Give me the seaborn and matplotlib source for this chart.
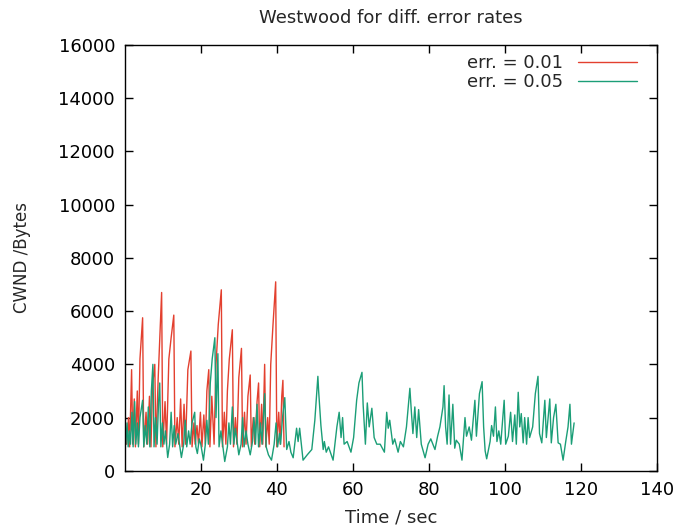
import matplotlib
matplotlib.use("Agg")
import matplotlib.pyplot as plt
import seaborn as sns
import pandas as pd

title = "Westwood for diff. error rates"
xlabel = "Time / sec"
ylabel = "CWND /Bytes"
series_names = ["err. = 0.01", "err. = 0.05"]
xticks = [20, 40, 60, 80, 100, 120, 140]
yticks = [0, 2000, 4000, 6000, 8000, 10000, 12000, 14000, 16000]

red_t = [0.5, 1.0, 1.3, 1.8, 2.1, 2.5, 2.8, 3.3, 3.6, 4.0, 4.7, 5.0, 5.6, 6.0, 6.5,
         6.9, 7.3, 7.9, 8.2, 8.8, 9.7, 10.0, 10.6, 11.0, 11.6, 12.2, 12.9, 13.2, 13.8,
         14.2, 14.7, 15.1, 15.6, 16.0, 16.6, 17.4, 17.7, 18.2, 18.5, 19.0, 19.4, 19.9,
         20.3, 20.8, 21.2, 21.6, 22.1, 22.4, 22.9, 23.5, 24.0, 24.6, 25.4, 25.7, 26.2,
         26.6, 27.0, 27.5, 28.3, 28.6, 29.1, 29.5, 30.0, 30.7, 31.0, 31.5, 31.9, 32.4,
         33.0, 33.3, 33.8, 34.2, 34.8, 35.2, 35.5, 36.0, 36.3, 36.8, 37.1, 37.6, 38.0,
         38.4, 39.0, 39.7, 40.0, 40.5, 40.9, 41.3, 41.6, 41.9]
red_v = [1000, 2000, 900, 3800, 1000, 2700, 900, 3000, 1000, 4200, 5750, 900, 2200, 1000, 2800,
         900, 3200, 4000, 900, 3500, 6700, 900, 2600, 1000, 4200, 5000, 5850, 900, 2000,
         1000, 2700, 900, 2500, 1000, 3800, 4500, 900, 1800, 1000, 1700, 1000, 2200,
         900, 2100, 1000, 3000, 3800, 900, 2800, 1000, 4000, 5500, 6800, 900, 2200,
         1000, 3000, 4200, 5300, 900, 2000, 1000, 3500, 4600, 900, 2200, 1000, 2800,
         3600, 900, 2000, 1000, 2600, 3300, 900, 2500, 1000, 4000, 900, 2000, 1000,
         4000, 5500, 7100, 900, 2200, 1000, 2800, 3400, 900]

green_t = [0.3, 0.6, 0.9, 1.2, 1.5, 1.9, 2.2, 2.6, 2.9, 3.3, 3.6, 4.0, 4.7, 5.0, 5.4,
           5.8, 6.2, 6.6, 7.0, 7.4, 7.7, 8.1, 8.5, 8.9, 9.2, 9.5, 9.9, 10.3, 10.7, 11.3,
           11.8, 12.2, 12.6, 13.0, 13.4, 14.0, 14.9, 15.5, 15.9, 16.3, 16.8, 17.2, 17.7,
           18.4, 18.7, 19.1, 19.6, 20.0, 20.7, 21.2, 21.6, 22.0, 22.5, 23.0, 23.7, 24.0,
           24.5, 24.8, 25.3, 26.3, 27.0, 27.4, 27.8, 28.3, 28.7, 29.1, 30.0, 30.6, 31.0,
           31.4, 31.9, 32.4, 33.0, 33.6, 34.0, 34.4, 34.8, 35.2, 35.7, 36.1, 36.8, 37.2,
           37.8, 38.6, 39.3, 39.8, 40.2, 40.7, 41.0, 41.5, 42.1, 42.6, 43.2, 43.7, 44.3,
           45.2, 45.6, 46.0, 46.9, 48.0, 49.2, 50.0, 50.8, 51.0, 51.6, 52.2, 52.5, 53.0,
           53.6, 54.8, 55.8, 56.4, 56.9, 57.3, 57.7, 58.5, 59.5, 60.2, 61.0, 61.6, 62.4,
           62.7, 63.3, 63.8, 64.3, 65.0, 65.6, 66.3, 67.2, 68.3, 68.9, 69.3, 69.7, 70.5,
           71.0, 71.9, 72.5, 73.3, 74.1, 75.0, 75.4, 75.8, 76.3, 76.8, 77.3, 78.0, 79.0,
           79.8, 80.5, 81.6, 82.3, 82.9, 83.7, 84.0, 84.4, 84.8, 85.3, 85.7, 86.3, 86.8,
           87.2, 88.0, 88.7, 89.5, 89.9, 90.6, 91.2, 92.1, 92.5, 93.3, 94.0, 94.4, 94.8,
           95.2, 96.1, 96.5, 97.0, 97.5, 97.9, 98.4, 98.9, 99.8, 100.2, 100.9, 101.5,
           102.0, 102.6, 103.0, 103.5, 103.9, 104.3, 104.8, 105.2, 105.7, 106.1, 106.5,
           107.3, 108.0, 108.7, 109.1, 109.7, 110.5, 110.9, 111.8, 112.2, 112.8, 113.4,
           114.0, 114.6, 115.3, 116.0, 116.6, 117.1, 117.5, 118.2]
green_v = [1000, 1800, 900, 1500, 1000, 2200, 900, 2600, 1000, 1800, 900, 2000, 2650, 900, 1700,
           1000, 2400, 900, 3000, 4000, 900, 2000, 1000, 2600, 3300, 900, 1800, 1000, 1500, 500,
           1000, 2200, 900, 1700, 1000, 1400, 500, 1000, 1900, 900, 1500, 1000, 1800,
           2200, 900, 650, 1200, 1000, 400, 1000, 1900, 1000, 3300, 4200, 5000, 2000,
           4400, 900, 1500, 350, 900, 1800, 1000, 2400, 1000, 1600, 600, 1000, 2000,
           900, 1500, 1000, 600, 1100, 2000, 1000, 2500, 900, 1800, 1000, 2900, 900,
           600, 400, 1000, 1800, 900, 1400, 1000, 2000, 2750, 800, 1100, 700, 490,
           1600, 1100, 1600, 400, 600, 800, 1900, 3550, 3000, 1700, 800, 1100, 700,
           900, 400, 1650, 2200, 1250, 2000, 1000, 1100, 700, 1250, 2650, 3300, 3700,
           2500, 1000, 2550, 1650, 2350, 1250, 1000, 1000, 700, 2200, 1600, 1900, 1000,
           1200, 700, 1100, 900, 1650, 3100, 2200, 1400, 2400, 1250, 2300, 1000, 490,
           1000, 1200, 800, 1300, 1650, 2400, 3200, 1650, 1000, 2850, 1000, 2500, 850,
           1150, 1000, 400, 2000, 1300, 1650, 1150, 2650, 1300, 2900, 3350, 1650, 750,
           450, 1100, 1700, 1300, 2400, 1100, 1500, 1000, 2650, 1000, 1300, 2200,
           1100, 2100, 1000, 2950, 1650, 2150, 1050, 2000, 1000, 2000, 1250,
           1650, 2900, 3550, 1400, 1050, 2650, 1250, 2700, 1050, 2000, 2500,
           1050, 1000, 400, 1100, 1650, 2500, 1000, 1800]

sns.set_style("ticks")
plt.rcParams['font.family'] = ['DejaVu Sans']

red_df = pd.DataFrame({"t": red_t, "v": red_v})
green_df = pd.DataFrame({"t": green_t, "v": green_v})

fig = plt.figure(figsize=(6.78, 5.29), dpi=100)
ax = fig.add_axes([0.184, 0.110, 0.785, 0.805])

sns.lineplot(data=red_df, x="t", y="v", ax=ax, color="#e3402f", linewidth=1.0,
             sort=False, estimator=None, label=series_names[0])
sns.lineplot(data=green_df, x="t", y="v", ax=ax, color="#1b9e77", linewidth=1.0,
             sort=False, estimator=None, label=series_names[1])

ax.set_xlim(0, 140)
ax.set_ylim(0, 16000)
ax.set_xticks(xticks)
ax.set_yticks(yticks)
ax.tick_params(direction="in", length=6, width=1, top=True, right=True,
               labelsize=13, pad=7, colors="black")
for s in ax.spines.values():
    s.set_linewidth(1.0)
    s.set_color("black")
ax.set_title(title, fontsize=13, pad=16)
ax.set_xlabel(xlabel, fontsize=13, labelpad=7)
ax.set_ylabel(ylabel, fontsize=12, labelpad=20)
ax.legend(loc="upper right", frameon=False, markerfirst=False, fontsize=13,
          handlelength=3.3, borderaxespad=0.1, labelspacing=0.05,
          bbox_to_anchor=(0.98, 1.0))

fig.savefig("out.png", dpi=100)
